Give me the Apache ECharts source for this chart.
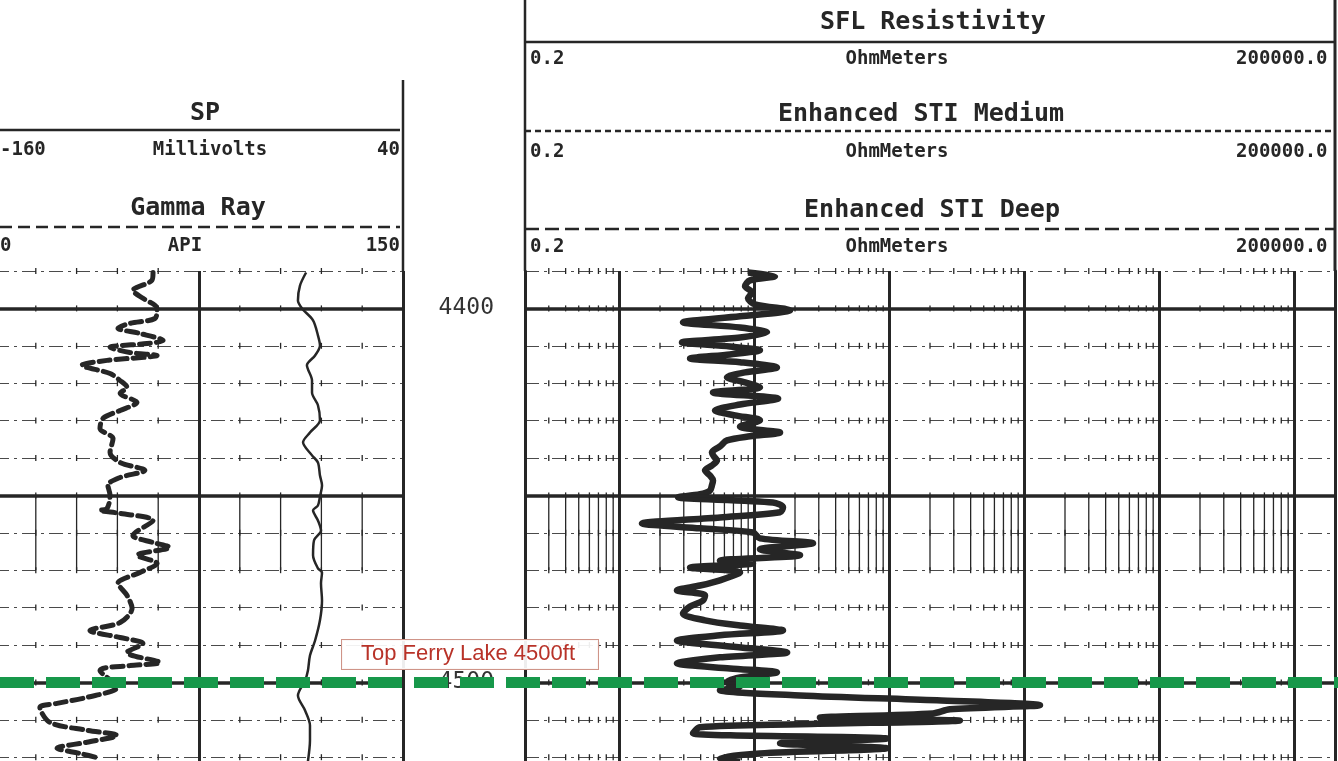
<!DOCTYPE html>
<html>
<head>
<meta charset="utf-8">
<title>Well log 4390-4520 ft</title>
<script src="https://cdn.jsdelivr.net/npm/echarts@6/dist/echarts.min.js"></script>
<style>
  html, body { margin: 0; padding: 0; background: #fff; }
  #main { width: 1338px; height: 761px; }
</style>
</head>
<body>
<div id="main"></div>
<script>
// gamma ray (API) vs depth (ft)
var grDepth = [4390.4, 4392.5, 4395.2, 4397.3, 4400.0, 4402.7, 4404.0, 4405.3, 4406.7, 4408.6, 4409.4, 4410.4, 4411.8, 4412.6, 4413.9, 4415.2,
  4417.4, 4419.3, 4421.1, 4422.7, 4425.1, 4427.3, 4429.4, 4432.1, 4434.8, 4438.5, 4441.2, 4443.3, 4445.2, 4447.3, 4450.0, 4453.5,
  4454.0, 4454.8, 4456.7, 4460.7, 4462.6, 4463.9, 4466.0, 4468.2, 4470.6, 4473.5, 4476.7, 4480.2, 4484.0, 4486.1, 4488.0, 4489.6,
  4492.0, 4494.7, 4495.5, 4496.8, 4501.3, 4504.0, 4505.6, 4506.7, 4510.7, 4512.8, 4514.2, 4516.0, 4517.6, 4519.0, 4520.3];
var grApi = [58.1, 57.7, 50.7, 54.4, 59.6, 58.8, 49.6, 45.2, 53.3, 61.8, 55.9, 42.3, 49.6, 59.6, 41.2, 32.0,
  42.3, 46.0, 48.5, 46.0, 52.2, 46.0, 39.7, 38.6, 43.4, 42.3, 46.0, 55.1, 46.0, 41.5, 42.3, 41.2,
  38.6, 46.0, 58.1, 50.7, 58.1, 64.3, 52.2, 59.6, 53.3, 45.2, 48.5, 50.4, 46.0, 34.9, 46.0, 54.4,
  48.5, 60.7, 49.6, 38.6, 44.9, 33.8, 22.8, 16.5, 20.2, 33.8, 44.9, 33.8, 22.8, 31.3, 38.6];

// SP (mV) vs depth
var spDepth = [4390.4, 4393.9, 4397.9, 4400.0, 4403.2, 4407.2, 4409.9, 4412.6, 4415.2, 4419.3, 4422.5, 4425.9, 4429.9, 4433.2,
  4435.8, 4439.3, 4441.2, 4444.7, 4447.3, 4450.3, 4452.7, 4454.0, 4456.7, 4459.4, 4462.0, 4466.0, 4469.5, 4470.6,
  4473.5, 4478.1, 4483.4, 4488.8, 4492.8, 4496.8, 4499.5, 4503.5, 4507.5, 4511.5, 4515.5, 4521.1];
var spMv = [-7.5, -10.5, -11.5, -9.5, -4.1, -1.7, -0.7, -3.1, -7.1, -4.6, -4.6, -1.7, -0.7, -5.6,
  -9.0, -4.6, -1.7, -0.7, 0.3, -0.7, -1.7, -4.1, -1.7, -0.2, -3.6, -4.1, -1.7, 0.3,
  -0.2, 0.3, -0.7, -3.1, -5.6, -6.6, -8.0, -11.5, -8.0, -5.6, -5.6, -6.6];

// resistivity (ohm-m) vs depth
var resDepth = [4390.4, 4391.4, 4392.5, 4394.1, 4395.7, 4397.3, 4398.9, 4400.5, 4402.1, 4403.7, 4405.1, 4406.4, 4407.8, 4409.1,
  4410.2, 4411.2, 4412.3, 4413.4, 4414.4, 4415.8, 4417.1, 4418.4, 4419.8, 4421.1, 4422.5, 4424.1, 4425.7, 4427.3,
  4428.6, 4429.9, 4431.6, 4433.2, 4434.2, 4435.3, 4436.9, 4438.5, 4439.6, 4440.6, 4442.0, 4443.3, 4444.7, 4446.0,
  4447.3, 4448.7, 4449.7, 4450.5, 4451.9, 4453.2, 4454.5, 4455.9, 4457.5, 4458.8, 4459.9, 4461.5, 4462.8, 4464.4,
  4466.0, 4467.4, 4468.2, 4469.3, 4470.6, 4472.7, 4474.1, 4475.4, 4476.7, 4478.1, 4479.7, 4481.6, 4483.4, 4484.8,
  4486.1, 4487.4, 4488.8, 4490.4, 4492.0, 4493.3, 4494.9, 4496.3, 4497.3, 4498.7, 4500.0, 4501.1, 4502.1, 4503.5,
  4504.8, 4506.1, 4507.2, 4508.3, 4509.4, 4510.2, 4511.2, 4512.0, 4513.6, 4515.0, 4516.3, 4517.6, 4519.0, 4520.3, 4521.1];
var resOhm = [8.97, 14.2, 9.28, 8.53, 9.6, 8.97, 10.1, 18.4, 7.83, 2.96, 7.83, 12.4, 7.83, 2.91,
  6.6, 11.0, 6.6, 3.34, 7.83, 14.7, 8.53, 6.27, 8.53, 11.0, 4.94, 15.0, 7.83, 5.11,
  7.19, 11.0, 7.83, 15.5, 9.28, 6.27, 5.56, 4.85, 5.02, 5.29, 4.85, 4.31, 4.69, 4.94,
  4.85, 4.69, 3.96, 2.72, 13.7, 16.3, 15.5, 5.56, 1.47, 3.96, 9.77, 11.0, 27.2, 11.0,
  21.8, 5.56, 9.77, 3.34, 7.83, 5.56, 3.96, 2.67, 4.31, 4.17, 3.34, 2.96, 4.31, 7.83,
  16.3, 5.56, 2.67, 6.6, 17.5, 5.56, 2.67, 6.6, 14.7, 7.83, 6.27, 7.83, 5.56, 21.8,
  225, 1306, 281, 210, 30.6, 333, 21.8, 3.96, 3.51, 96, 15.5, 96, 11.0, 5.56, 7.83];

var majorDepths = [4400, 4450, 4500];
var markerDepth = 4500;
var markerText = 'Top Ferry Lake 4500ft';
var spMinors = [-140, -120, -100, -80, -40, -20, 0, 20];
var minorBands = [[4450, 4470]];

var ink = '#262626';
var depthMin = 4390, depthMax = 4530;
var trackTop = 271, trackHeight = (depthMax - depthMin) * 3.74;

// log-grid minor lines 2..9 per decade inside 0.2 .. 200000
var resMinors = [];
for (var dec = 0.1; dec < 100000; dec *= 10) {
  for (var m = 2; m <= 9; m++) {
    var v = +(m * dec).toPrecision(3);
    if (v > 0.2 && v < 200000) resMinors.push(v);
  }
}
// little tick marks on every 10 ft line, plus bands of full minor lines
var tickRows = [];
for (var d = depthMin; d <= depthMax; d += 10) tickRows.push([d - 0.8, d + 0.8]);
var minorRows = tickRows.concat(minorBands);

function pairs(xs, depths) {
  return xs.map(function (x, i) { return [x, depths[i]]; });
}

function minorGrid(minors) {
  return function (params, api) {
    var top = api.value(0), bottom = api.value(1);
    return {
      type: 'group',
      children: minors.map(function (v) {
        var a = api.coord([v, top]);
        var b = api.coord([v, bottom]);
        return {
          type: 'line',
          shape: { x1: a[0], y1: a[1], x2: b[0], y2: b[1] },
          style: { stroke: ink, lineWidth: 1.3 }
        };
      })
    };
  };
}

function depthAxis(gridIndex, extra) {
  var ax = {
    type: 'value', gridIndex: gridIndex, inverse: true,
    min: depthMin, max: depthMax, interval: 10,
    axisLabel: { show: false }, axisTick: { show: false },
    axisLine: { show: false }, splitLine: { show: false }
  };
  for (var k in extra) ax[k] = extra[k];
  return ax;
}

var tenFootLine = { show: true, lineStyle: { color: '#4a4a4a', width: 1.2, type: [14, 5, 3, 5] } };
var majorLines = {
  silent: true, symbol: ['none', 'none'], animation: false,
  label: { show: false },
  lineStyle: { color: ink, width: 3.5, type: 'solid' },
  data: majorDepths.map(function (d) { return { yAxis: d }; })
};

var headBold = 'bold 25px "DejaVu Sans Mono"';
var unitFont = 'bold 19px "DejaVu Sans Mono"';
function txt(s, x, y, font, align) {
  return { type: 'text', x: x, y: y, silent: true,
    style: { text: s, font: font, fill: ink, align: align || 'center', verticalAlign: 'middle' } };
}
function hline(x1, x2, y, dash) {
  return { type: 'line', silent: true, shape: { x1: x1, y1: y, x2: x2, y2: y },
    style: { stroke: ink, lineWidth: 2.5, lineDash: dash || null } };
}
function vline(x, y1, y2, w) {
  return { type: 'line', silent: true, shape: { x1: x, y1: y1, x2: x, y2: y2 },
    style: { stroke: ink, lineWidth: w || 2.5 } };
}

var header = [
  // SP / Gamma Ray
  txt('SP', 205, 113, headBold),
  hline(0, 400, 130),
  txt('-160', 0, 150, unitFont, 'left'), txt('Millivolts', 210, 150, unitFont), txt('40', 400, 150, unitFont, 'right'),
  txt('Gamma Ray', 198, 208, headBold),
  hline(0, 400, 227, [12, 6]),
  txt('0', 0, 246, unitFont, 'left'), txt('API', 185, 246, unitFont), txt('150', 400, 246, unitFont, 'right'),
  vline(403, 80, trackTop),
  // resistivity
  txt('SFL Resistivity', 933, 22, headBold),
  hline(525, 1335, 42),
  txt('0.2', 530, 59, unitFont, 'left'), txt('OhmMeters', 897, 59, unitFont), txt('200000.0', 1236, 59, unitFont, 'left'),
  txt('Enhanced STI Medium', 921, 114, headBold),
  hline(525, 1335, 131, [6, 4]),
  txt('0.2', 530, 152, unitFont, 'left'), txt('OhmMeters', 897, 152, unitFont), txt('200000.0', 1236, 152, unitFont, 'left'),
  txt('Enhanced STI Deep', 932, 210, headBold),
  hline(525, 1335, 229, [14, 6]),
  txt('0.2', 530, 247, unitFont, 'left'), txt('OhmMeters', 897, 247, unitFont), txt('200000.0', 1236, 247, unitFont, 'left'),
  vline(525, 0, trackTop),
  vline(1335, 0, trackTop, 3)
];

var chart = echarts.init(document.getElementById('main'));
chart.setOption({
  backgroundColor: '#ffffff',
  animation: false,
  graphic: header,
  grid: [
    { left: -5, top: trackTop, width: 408, height: trackHeight, containLabel: false, outerBoundsMode: 'none' },
    { left: 525, top: trackTop, width: 810, height: trackHeight, containLabel: false, outerBoundsMode: 'none' },
    { left: 0, top: trackTop, width: 1338, height: trackHeight, containLabel: false, outerBoundsMode: 'none' }
  ],
  xAxis: [
    { type: 'value', gridIndex: 0, min: 0, max: 150, interval: 75,
      axisLabel: { show: false }, axisTick: { show: false }, axisLine: { show: false },
      splitLine: { show: true, lineStyle: { color: ink, width: 3 } } },
    { type: 'value', gridIndex: 0, min: -160, max: 40, interval: 20, show: false },
    { type: 'log', logBase: 10, gridIndex: 1, min: 0.2, max: 200000,
      axisLabel: { show: false }, axisTick: { show: false }, axisLine: { show: false },
      splitLine: { show: true, lineStyle: { color: ink, width: 3 } } },
    { type: 'value', gridIndex: 2, min: 0, max: 1338, show: false }
  ],
  yAxis: [
    depthAxis(0, { position: 'right', splitLine: tenFootLine,
      axisLine: { show: true, lineStyle: { color: ink, width: 2.5 } } }),
    depthAxis(1, { position: 'left', splitLine: tenFootLine,
      axisLine: { show: true, lineStyle: { color: ink, width: 2.5 } },
      axisLabel: { show: true, margin: 31, color: '#333', fontSize: 23, fontFamily: 'DejaVu Sans Mono',
        formatter: function (v) { return v % 100 === 0 ? String(v) : ''; } } }),
    depthAxis(1, { position: 'right', axisLine: { show: true, lineStyle: { color: ink, width: 3 } } }),
    depthAxis(2, { show: false })
  ],
  series: [
    { type: 'custom', name: 'left minor grid', xAxisIndex: 1, yAxisIndex: 0, silent: true,
      dimensions: ['top', 'bottom'], encode: { y: [0, 1] },
      data: minorRows, renderItem: minorGrid(spMinors) },
    { type: 'custom', name: 'right minor grid', xAxisIndex: 2, yAxisIndex: 1, silent: true,
      dimensions: ['top', 'bottom'], encode: { y: [0, 1] },
      data: minorRows, renderItem: minorGrid(resMinors) },
    { type: 'line', name: 'Gamma Ray', xAxisIndex: 0, yAxisIndex: 0, symbol: 'none', smooth: 0.3,
      lineStyle: { color: ink, width: 5, type: [11, 6], cap: 'round' },
      data: pairs(grApi, grDepth), markLine: majorLines, z: 3 },
    { type: 'line', name: 'SP', xAxisIndex: 1, yAxisIndex: 0, symbol: 'none', smooth: 0.3,
      lineStyle: { color: ink, width: 2.5 },
      data: pairs(spMv, spDepth), z: 3 },
    { type: 'line', name: 'SFL Resistivity', xAxisIndex: 2, yAxisIndex: 1, symbol: 'none', smooth: 0.3,
      lineStyle: { color: ink, width: 6.5, join: 'round' },
      data: pairs(resOhm, resDepth), markLine: majorLines, z: 3 },
    { type: 'line', name: 'marker', xAxisIndex: 3, yAxisIndex: 3, symbol: 'none', data: [], z: 10,
      markLine: {
        silent: true, symbol: ['none', 'none'], animation: false, label: { show: false },
        lineStyle: { color: '#17984a', width: 11, type: [34, 12], cap: 'butt', opacity: 1 },
        data: [{ yAxis: markerDepth }]
      },
      markPoint: {
        silent: true, animation: false,
        symbol: 'circle', symbolSize: 0,
        label: { show: true, position: 'inside', offset: [0, -28], formatter: markerText,
          color: '#b83228', fontSize: 22, fontFamily: 'Liberation Sans',
          backgroundColor: 'rgba(255,255,255,0.92)', borderColor: '#cf9488', borderWidth: 1,
          padding: [4, 10, 3, 6], width: 240 },
        data: [{ coord: [470, markerDepth] }]
      }
    }
  ]
});
</script>
</body>
</html>
